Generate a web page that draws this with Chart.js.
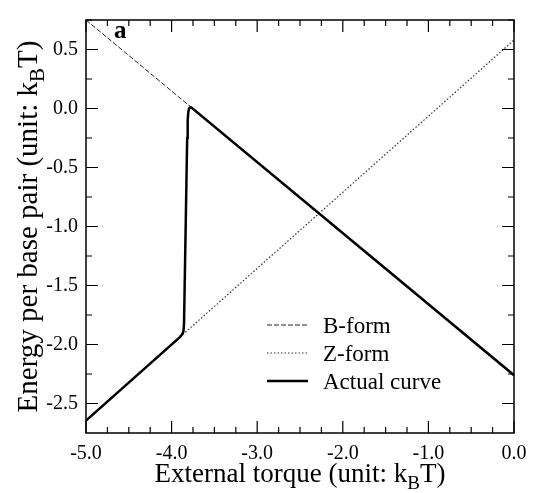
<!DOCTYPE html>
<html>
<head>
<meta charset="utf-8">
<script src="https://cdn.jsdelivr.net/npm/chart.js@4.4.0/dist/chart.umd.min.js"></script>
<style>
  body { margin: 0; background: #fff; }
</style>
</head>
<body>
<canvas id="torque" width="536" height="493"></canvas>
<script>
// values
const bFormX = [-5.0, 0.0];
const bFormY = [0.75, -2.26];
const zFormX = [-5.0, 0.0];
const zFormY = [-2.645, 0.58];
const actualX = [-5.0, -3.9, -3.875, -3.862, -3.855, -3.818, -3.812, -3.805, -3.795, -3.78, -3.765, 0.0];
const actualY = [-2.645, -1.935, -1.912, -1.89, -1.83, -0.25, -0.1, -0.03, 0.0, 0.01, 0.005, -2.26];

const xTickValues = [-5, -4, -3, -2, -1, 0];
const yTickValues = [-2.5, -2, -1.5, -1, -0.5, 0, 0.5];
const minorStep = 0.25;
const seriesNames = ['B-form', 'Z-form', 'Actual curve'];

const serif = '"Liberation Serif", "Times New Roman", serif';

const toPoints = (xs, ys) => xs.map((x, i) => ({ x: x, y: ys[i] }));

// text with a lowered "B" for k_B T
function subText(ctx, parts, x, y, size, align) {
  const subSize = Math.round(size * 0.72);
  let total = 0;
  parts.forEach(p => {
    ctx.font = (p[1] ? subSize : size) + 'px ' + serif;
    total += ctx.measureText(p[0]).width;
  });
  let cx = align === 'center' ? x - total / 2 : x;
  ctx.textAlign = 'left';
  ctx.textBaseline = 'alphabetic';
  parts.forEach(p => {
    ctx.font = (p[1] ? subSize : size) + 'px ' + serif;
    ctx.fillText(p[0], cx, p[1] ? y + size * 0.25 : y);
    cx += ctx.measureText(p[0]).width;
  });
}

const framePlugin = {
  id: 'frame',
  afterDraw(chart) {
    const ctx = chart.ctx;
    const a = chart.chartArea;
    const xs = chart.scales.x, ys = chart.scales.y;
    ctx.save();
    ctx.strokeStyle = '#000';
    ctx.fillStyle = '#000';

    // box
    ctx.lineWidth = 1.5;
    ctx.strokeRect(a.left, a.top, a.right - a.left, a.bottom - a.top);

    // inward ticks on all four sides
    ctx.lineWidth = 1.2;
    ctx.beginPath();
    for (let v = xs.min; v <= xs.max + 1e-9; v += minorStep) {
      const px = xs.getPixelForValue(v);
      const len = Math.abs(v - Math.round(v)) < 1e-6 ? 12 : 6;
      ctx.moveTo(px, a.bottom); ctx.lineTo(px, a.bottom - len);
      ctx.moveTo(px, a.top); ctx.lineTo(px, a.top + len);
    }
    for (let v = -2.5; v <= ys.max + 1e-9; v += minorStep) {
      const py = ys.getPixelForValue(v);
      const len = Math.abs(v * 2 - Math.round(v * 2)) < 1e-6 ? 12 : 6;
      ctx.moveTo(a.left, py); ctx.lineTo(a.left + len, py);
      ctx.moveTo(a.right, py); ctx.lineTo(a.right - len, py);
    }
    ctx.stroke();

    // panel letter
    ctx.font = 'bold 25px ' + serif;
    ctx.textAlign = 'left';
    ctx.textBaseline = 'alphabetic';
    ctx.fillText('a', 114, 38);

    // axis titles
    subText(ctx, [['External torque (unit: k', false], ['B', true], ['T)', false]],
      (a.left + a.right) / 2, 482, 27, 'center');
    ctx.save();
    ctx.translate(37, (a.top + a.bottom) / 2);
    ctx.rotate(-Math.PI / 2);
    subText(ctx, [['Energy per base pair (unit: k', false], ['B', true], ['T)', false]],
      0, 0, 29, 'center');
    ctx.restore();

    // legend
    const legendY = [325, 353, 381];
    chart.data.datasets.forEach((ds, i) => {
      const y = legendY[i];
      ctx.beginPath();
      ctx.lineWidth = ds.borderWidth;
      ctx.strokeStyle = ds.borderColor;
      ctx.setLineDash(ds.borderDash || []);
      ctx.moveTo(267, y); ctx.lineTo(308, y);
      ctx.stroke();
      ctx.setLineDash([]);
      ctx.font = '23px ' + serif;
      ctx.fillStyle = '#000';
      ctx.textAlign = 'left';
      ctx.textBaseline = 'alphabetic';
      ctx.fillText(ds.label, 323, y + 8);
    });
    ctx.restore();
  }
};

new Chart('torque', {
  type: 'scatter',
  data: {
    datasets: [
      {
        label: seriesNames[0],
        data: toPoints(bFormX, bFormY),
        showLine: true,
        borderColor: '#222',
        borderWidth: 1,
        borderDash: [5, 2],
        pointRadius: 0,
        order: 2,
      },
      {
        label: seriesNames[1],
        data: toPoints(zFormX, zFormY),
        showLine: true,
        borderColor: '#333',
        borderWidth: 1.2,
        borderDash: [1.5, 2],
        pointRadius: 0,
        order: 1,
      },
      {
        label: seriesNames[2],
        data: toPoints(actualX, actualY),
        showLine: true,
        borderColor: '#000',
        borderWidth: 2.5,
        pointRadius: 0,
        tension: 0,
        order: 0,
      },
    ],
  },
  options: {
    responsive: false,
    animation: false,
    devicePixelRatio: 1,
    layout: { padding: { left: 0, right: 22, top: 7, bottom: 0 } },
    plugins: { legend: { display: false }, tooltip: { enabled: false } },
    scales: {
      x: {
        type: 'linear',
        min: -5,
        max: 0,
        afterBuildTicks: s => { s.ticks = xTickValues.map(v => ({ value: v })); },
        afterFit: s => { s.height = 60; },
        grid: { display: false, drawTicks: false },
        border: { display: false },
        ticks: {
          padding: 9,
          maxRotation: 0,
          color: '#000',
          font: { family: serif, size: 20 },
          callback: v => v.toFixed(1),
        },
      },
      y: {
        type: 'linear',
        min: -2.75,
        max: 0.75,
        afterBuildTicks: s => { s.ticks = yTickValues.map(v => ({ value: v })); },
        afterFit: s => { s.width = 86; },
        grid: { display: false, drawTicks: false },
        border: { display: false },
        ticks: {
          padding: 8,
          color: '#000',
          font: { family: serif, size: 20 },
          callback: v => v.toFixed(1),
        },
      },
    },
  },
  plugins: [framePlugin],
});
</script>
</body>
</html>
